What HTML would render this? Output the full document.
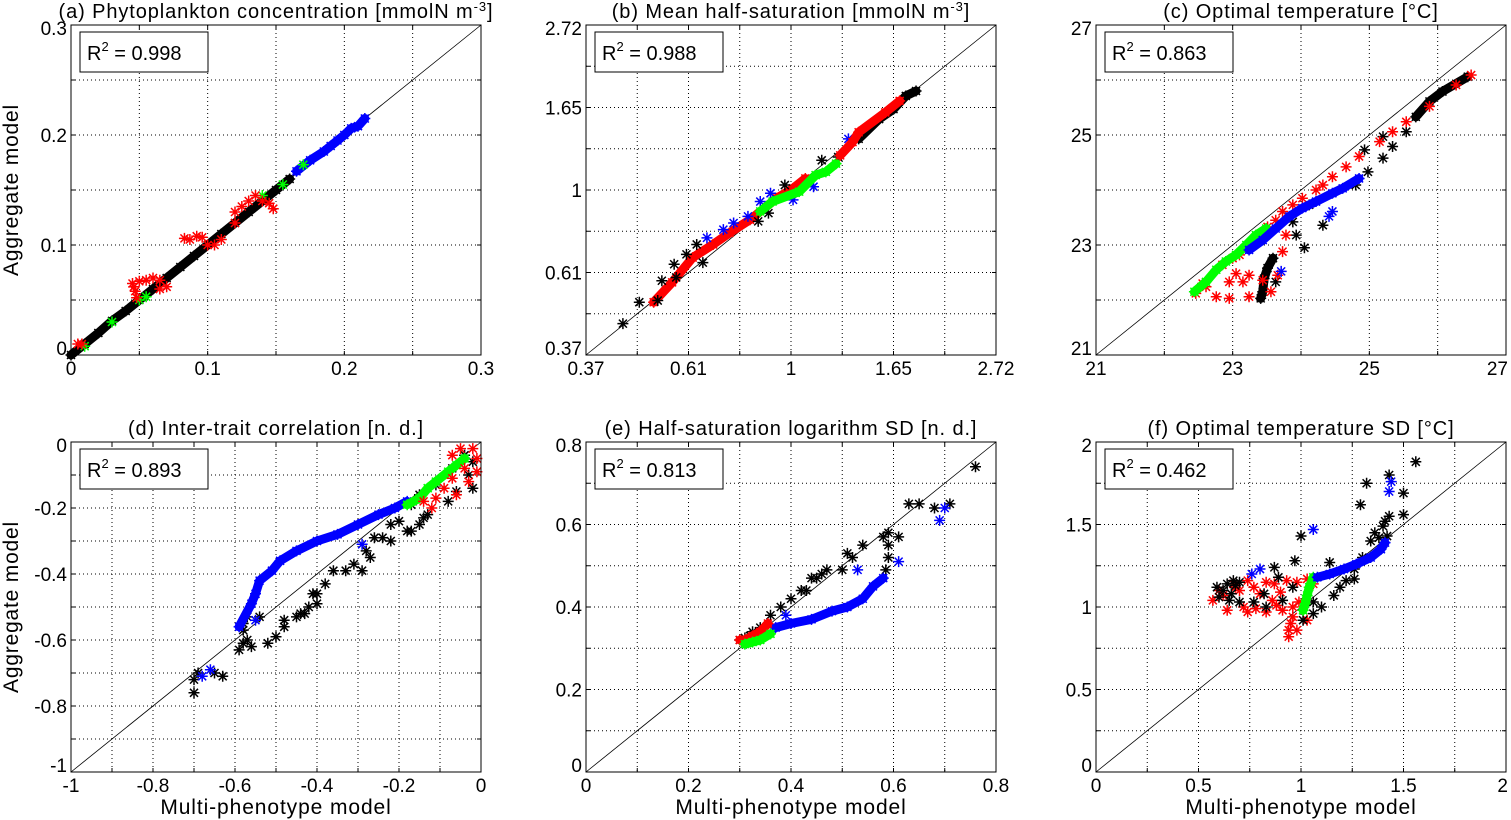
<!DOCTYPE html>
<html><head><meta charset="utf-8">
<style>
html,body{margin:0;padding:0;background:#fff;}
svg{display:block;font-family:"Liberation Sans",sans-serif;}
</style></head>
<body>
<svg id="fig" width="1511" height="820" viewBox="0 0 1511 820"></svg>
<script>
// ---------- DATA ----------
// Panel a: phytoplankton concentration
const aBlackBand=[[0,0],[0.01,0.01],[0.02,0.02],[0.03,0.031],[0.04,0.04],[0.05,0.05],[0.06,0.06],[0.07,0.07],[0.08,0.08],[0.09,0.09],[0.1,0.1],[0.11,0.11],[0.12,0.12],[0.13,0.13],[0.14,0.14],[0.15,0.15],[0.16,0.16]];
const aBlueBand=[[0.165,0.167],[0.175,0.177],[0.185,0.185],[0.19,0.19],[0.195,0.195],[0.2,0.2],[0.205,0.206],[0.21,0.208],[0.215,0.215]];
const aGreen=[[0.01,0.008],[0.03,0.03],[0.05,0.05],[0.055,0.053],[0.14,0.145],[0.155,0.155],[0.17,0.173]];
const aRed=[[0.005,0.01],[0.008,0.01],[0.045,0.065],[0.05,0.067],[0.055,0.068],[0.06,0.07],[0.065,0.068],[0.047,0.058],[0.048,0.052],[0.046,0.062],[0.083,0.106],[0.087,0.105],[0.092,0.108],[0.096,0.107],[0.1,0.1],[0.12,0.13],[0.125,0.135],[0.135,0.145],[0.14,0.14],[0.145,0.138],[0.065,0.06],[0.07,0.062],[0.105,0.1],[0.11,0.105],[0.13,0.14],[0.148,0.133],[0.12,0.12]];
// Panel b: ln of half-saturation (axis is log)
const bBlack=[[-0.82,-0.81],[-0.74,-0.68],[-0.63,-0.55],[-0.57,-0.45],[-0.51,-0.39],[-0.46,-0.33],[-0.65,-0.67],[-0.56,-0.53],[-0.43,-0.44],[-0.16,-0.19],[-0.11,-0.14],[-0.03,0.03],[0.15,0.18],[0.23,0.20]];
const bBlackBand=[[0.33,0.31],[0.43,0.43],[0.50,0.49],[0.56,0.57],[0.61,0.60]];
const bBlue=[[-0.41,-0.29],[-0.33,-0.24],[-0.28,-0.20],[-0.21,-0.16],[-0.15,-0.07],[-0.10,-0.02],[0.01,-0.06],[0.11,0.02],[0.28,0.31]];
const bRedBand=[[-0.67,-0.68],[-0.58,-0.56],[-0.48,-0.41],[-0.38,-0.33],[-0.30,-0.26],[-0.20,-0.18],[-0.07,-0.05],[0.01,0.01],[0.07,0.07]];
const bRedBand2=[[0.24,0.21],[0.30,0.29],[0.33,0.35],[0.46,0.47],[0.53,0.54]];
const bGreenBand=[[-0.15,-0.13],[-0.09,-0.07],[0.04,-0.01],[0.12,0.09],[0.17,0.11],[0.22,0.16]];
// Panel c: optimal temperature
const cBlackBand=[[26.44,26.06],[26.07,25.79],[25.88,25.61],[25.68,25.33]];
const cBlack=[[25.54,25.06],[25.34,24.79],[25.20,24.58],[24.98,24.33],[24.80,24.09],[25.2,24.97],[24.93,24.73],[23.93,23.18],[23.88,23.42],[24.05,22.95],[24.32,23.36],[24.12,23.73],[23.63,22.33]];
const cBlackCluster=[[23.41,22.03],[23.44,22.15],[23.46,22.39],[23.51,22.58],[23.59,22.76]];
const cRed=[[26.49,26.09],[26.27,25.91],[25.88,25.52],[25.54,25.24],[25.34,25.06],[25.15,24.88],[24.85,24.61],[24.66,24.42],[24.46,24.24],[24.32,24.09],[24.22,24.0],[24.02,23.85],[23.88,23.73],[23.73,23.61],[23.63,23.45],[23.51,23.33],[23.10,22.82],[23.0,22.76],[22.85,22.64],[22.46,22.12],[22.61,22.24],[22.76,22.06],[22.95,22.03],[23.24,22.06],[23.05,22.48],[23.24,22.45],[23.44,22.36],[22.95,22.33],[23.15,22.33],[23.78,23.18],[23.73,22.88],[23.66,22.45],[23.56,22.15],[22.56,22.3]];
const cBlueBand=[[23.24,22.91],[23.44,23.09],[23.63,23.30],[23.83,23.52],[24.02,23.67],[24.22,23.79],[24.46,23.94],[24.61,24.03],[24.85,24.21]];
const cBlue=[[24.41,23.52],[24.46,23.61],[23.71,22.52]];
const cGreenBand=[[22.44,22.15],[22.61,22.33],[22.76,22.55],[22.90,22.70],[23.05,22.82],[23.20,23.0],[23.34,23.18],[23.49,23.30]];
// Panel d: inter-trait correlation
const dBlueBand=[[-0.59,-0.56],[-0.56,-0.49],[-0.55,-0.46],[-0.54,-0.42],[-0.51,-0.39],[-0.49,-0.36],[-0.45,-0.33],[-0.40,-0.30],[-0.35,-0.28],[-0.30,-0.25],[-0.25,-0.22],[-0.21,-0.20],[-0.18,-0.18]];
const dBlue=[[-0.66,-0.69],[-0.68,-0.71],[-0.55,-0.54],[-0.29,-0.31]];
const dBlack=[[-0.70,-0.76],[-0.70,-0.72],[-0.69,-0.70],[-0.65,-0.70],[-0.63,-0.71],[-0.57,-0.53],[-0.58,-0.57],[-0.58,-0.61],[-0.59,-0.63],[-0.56,-0.62],[-0.54,-0.53],[-0.52,-0.61],[-0.50,-0.59],[-0.48,-0.56],[-0.48,-0.54],[-0.45,-0.53],[-0.43,-0.52],[-0.41,-0.46],[-0.40,-0.49],[-0.40,-0.46],[-0.38,-0.43],[-0.36,-0.39],[-0.33,-0.39],[-0.31,-0.37],[-0.29,-0.39],[-0.28,-0.33],[-0.27,-0.35],[-0.26,-0.29],[-0.24,-0.29],[-0.22,-0.30],[-0.22,-0.25],[-0.20,-0.24],[-0.18,-0.27],[-0.17,-0.27],[-0.15,-0.25],[-0.14,-0.23],[-0.13,-0.22],[-0.15,-0.16],[-0.11,-0.13],[-0.08,-0.18],[-0.07,-0.08],[-0.04,-0.04],[-0.03,-0.10],[-0.02,-0.14],[-0.06,-0.15],[-0.02,-0.06],[-0.17,-0.19],[-0.58,-0.55],[-0.57,-0.60],[-0.44,-0.52],[-0.42,-0.50]];
const dGreenBand=[[-0.18,-0.19],[-0.15,-0.17],[-0.13,-0.14],[-0.11,-0.12],[-0.08,-0.09],[-0.06,-0.07],[-0.04,-0.05]];
const dRed=[[-0.07,-0.04],[-0.05,-0.02],[-0.02,-0.02],[-0.01,-0.05],[-0.04,-0.08],[-0.07,-0.11],[-0.09,-0.14],[-0.11,-0.17],[-0.12,-0.20],[-0.03,-0.12],[-0.06,-0.16],[-0.01,-0.09],[-0.14,-0.18]];
// Panel e: half-saturation logarithm SD
const eBlack=[[0.30,0.32],[0.32,0.33],[0.34,0.35],[0.36,0.38],[0.38,0.40],[0.40,0.42],[0.42,0.44],[0.43,0.44],[0.44,0.47],[0.46,0.48],[0.47,0.49],[0.50,0.49],[0.51,0.53],[0.52,0.52],[0.54,0.55],[0.58,0.57],[0.59,0.58],[0.61,0.57],[0.59,0.55],[0.59,0.52],[0.585,0.49],[0.63,0.65],[0.65,0.65],[0.68,0.64],[0.71,0.65],[0.76,0.74],[0.325,0.34],[0.45,0.47],[0.31,0.325]];
const eBlueBand=[[0.37,0.35],[0.40,0.36],[0.44,0.37],[0.48,0.39],[0.51,0.40],[0.54,0.42],[0.56,0.45],[0.58,0.47]];
const eBlue=[[0.53,0.49],[0.61,0.51],[0.69,0.61],[0.70,0.64],[0.39,0.38]];
const eRedBand=[[0.30,0.32],[0.31,0.32],[0.325,0.33],[0.34,0.34],[0.355,0.36]];
const eGreenBand=[[0.31,0.31],[0.325,0.315],[0.34,0.32],[0.36,0.335]];
// Panel f: optimal temperature SD
const fBlack=[[1.56,1.88],[1.43,1.80],[1.32,1.75],[1.50,1.69],[1.29,1.62],[1.50,1.56],[1.00,1.43],[0.97,1.28],[0.87,1.24],[0.89,1.18],[1.14,1.27],[1.43,1.55],[1.40,1.49],[1.38,1.42],[1.34,1.40],[1.42,1.43],[1.30,1.30],[1.26,1.23],[1.26,1.17],[1.22,1.16],[1.19,1.12],[1.16,1.07],[1.10,1.00],[1.06,0.96],[1.06,1.03],[1.01,0.92],[0.64,1.14],[0.67,1.16],[0.70,1.15],[0.59,1.12],[0.60,1.06],[0.65,1.04],[0.70,1.03],[0.77,1.03],[0.82,1.08],[0.83,1.00],[0.91,1.04],[0.96,1.12],[0.62,1.10],[0.66,1.08],[0.68,1.13],[1.36,1.45],[1.41,1.52]];
const fBlueBand=[[1.08,1.18],[1.14,1.20],[1.21,1.23],[1.27,1.26],[1.34,1.30],[1.39,1.35],[1.41,1.39]];
const fBlue=[[0.76,1.20],[0.80,1.23],[1.06,1.47],[1.43,1.70],[1.44,1.76]];
const fRed=[[0.57,1.04],[0.60,1.10],[0.67,1.14],[0.74,1.16],[0.83,1.15],[0.93,1.16],[1.03,1.17],[1.06,1.14],[0.64,0.98],[0.74,0.97],[0.83,0.97],[0.91,0.98],[0.99,1.03],[0.70,1.10],[0.80,1.08],[0.90,1.09],[0.96,1.00],[0.95,0.90],[0.94,0.82],[0.98,0.86],[1.03,0.92],[0.77,1.12],[0.86,1.04],[0.62,1.07],[0.68,1.12],[0.87,1.14],[0.98,1.15],[0.72,1.00],[0.88,1.01],[0.78,0.99],[0.96,0.94],[0.94,0.86]];
const fGreenBand=[[1.06,1.18],[1.04,1.12],[1.03,1.07],[1.02,1.02],[1.01,0.98]];

// Tick labels
const aTicks=["0","0.1","0.2","0.3"];
const bTicks=["0.37","0.61","1","1.65","2.72"];
const cTicks=["21","23","25","27"];
const dTicks=["-1","-0.8","-0.6","-0.4","-0.2","0"];
const eTicks=["0","0.2","0.4","0.6","0.8"];
const fTicks=["0","0.5","1","1.5","2"];
const r2Values=["0.998","0.988","0.863","0.893","0.813","0.462"];

// ---------- DRAWING ----------
const NS="http://www.w3.org/2000/svg";
const svg=document.getElementById('fig');
function mk(tag,attrs,parent){const e=document.createElementNS(NS,tag);for(const k in attrs)e.setAttribute(k,attrs[k]);(parent||svg).appendChild(e);return e;}
const COL={k:"#000",b:"#0000ff",r:"#ff0000",g:"#00ff00"};

const panels=[
 {id:"a",L:71,T:25,min:0,max:0.3,grid:6,labels:aTicks,labelVals:[0,0.1,0.2,0.3],title:"(a) Phytoplankton concentration [mmolN m",sup:"-3",tail:"]",ylab:true,xlab:false,
  series:[["k",aBlackBand,true],["b",aBlueBand,true],["g",aGreen,false],["r",aRed,false]]},
 {id:"b",L:586,T:25,min:-1,max:1,grid:8,labels:bTicks,labelVals:[-1,-0.5,0,0.5,1],title:"(b) Mean half-saturation [mmolN m",sup:"-3",tail:"]",ylab:false,xlab:false,
  series:[["r",bRedBand,true],["k",bBlack,false],["k",bBlackBand,true],["b",bBlue,false],["g",bGreenBand,true],["r",bRedBand2,true]]},
 {id:"c",L:1096,T:25,min:21,max:27,grid:6,labels:cTicks,labelVals:[21,23,25,27],title:"(c) Optimal temperature [°C]",ylab:false,xlab:false,
  series:[["k",cBlackBand,true],["k",cBlack,false],["k",cBlackCluster,true],["r",cRed,false],["g",cGreenBand,true],["b",cBlueBand,true],["b",cBlue,false]]},
 {id:"d",L:71,T:442,min:-1,max:0,grid:10,labels:dTicks,labelVals:[-1,-0.8,-0.6,-0.4,-0.2,0],title:"(d) Inter-trait correlation [n. d.]",ylab:true,xlab:true,
  series:[["k",dBlack,false],["b",dBlueBand,true],["b",dBlue,false],["g",dGreenBand,true],["r",dRed,false]]},
 {id:"e",L:586,T:442,min:0,max:0.8,grid:8,labels:eTicks,labelVals:[0,0.2,0.4,0.6,0.8],title:"(e) Half-saturation logarithm SD [n. d.]",ylab:false,xlab:true,
  series:[["k",eBlack,false],["b",eBlueBand,true],["b",eBlue,false],["r",eRedBand,true],["g",eGreenBand,true]]},
 {id:"f",L:1096,T:442,min:0,max:2,grid:8,labels:fTicks,labelVals:[0,0.5,1,1.5,2],title:"(f) Optimal temperature SD [°C]",ylab:false,xlab:true,
  series:[["r",fRed,false],["k",fBlack,false],["g",fGreenBand,true],["b",fBlueBand,true],["b",fBlue,false]]}
];
const W=410,H=330;

function star(g,x,y,c){
  const s=5.5,d=4;
  const p=mk('path',{d:`M${x-s} ${y}H${x+s}M${x} ${y-s}V${y+s}M${x-d} ${y-d}L${x+d} ${y+d}M${x-d} ${y+d}L${x+d} ${y-d}`,stroke:c,'stroke-width':1.5,fill:'none'},g);
  
  
}

panels.forEach((P,pi)=>{
  const sx=v=>P.L+(v-P.min)/(P.max-P.min)*W;
  const sy=v=>P.T+H-(v-P.min)/(P.max-P.min)*H;
  const g=mk('g',{});
  
  
  mk('rect',{x:P.L,y:P.T,width:W,height:H,fill:'#fff'},g);
  const grid=mk('g',{stroke:'#000','stroke-width':1,'stroke-dasharray':'1,3'},g);
  
  
  for(let i=1;i<P.grid;i++){
    const x=P.L+i*W/P.grid, y=P.T+i*H/P.grid;
    mk('line',{x1:x,y1:P.T,x2:x,y2:P.T+H},grid);
    mk('line',{x1:P.L,y1:y,x2:P.L+W,y2:y},grid);
  }
  const tk=mk('g',{stroke:'#000','stroke-width':1},g);
  
  
  for(let i=1;i<P.grid;i++){
    const x=P.L+i*W/P.grid, y=P.T+i*H/P.grid;
    mk('line',{x1:x,y1:P.T+H,x2:x,y2:P.T+H-4},tk);
    mk('line',{x1:x,y1:P.T,x2:x,y2:P.T+4},tk);
    mk('line',{x1:P.L,y1:y,x2:P.L+4,y2:y},tk);
    mk('line',{x1:P.L+W,y1:y,x2:P.L+W-4,y2:y},tk);
  }
  const dl=mk('line',{x1:P.L,y1:P.T+H,x2:P.L+W,y2:P.T,stroke:'#000','stroke-width':0.8},g);
  
  
  const sg=mk('g',{},g);
  
  
  P.series.forEach(([c,pts,band])=>{
    if(band&&pts.length>1){
      const pl=mk('polyline',{points:pts.map(p=>sx(p[0])+','+sy(p[1])).join(' '),stroke:COL[c],'stroke-width':9,fill:'none','stroke-linejoin':'round','stroke-linecap':'round'},sg);
      
      
    }
    pts.forEach(p=>star(sg,sx(p[0]),sy(p[1]),COL[c]));
  });
  const fr=mk('rect',{x:P.L,y:P.T,width:W,height:H,fill:'none',stroke:'#000','stroke-width':1},g);
  
  
  P.labels.forEach((lab,i)=>{
    const v=P.labelVals[i];
    const last=i===P.labels.length-1;
    const edge=last&&pi%3===2;
    const tx=mk('text',{x:edge?1508:sx(v),y:P.T+H+20,'font-size':19,'text-anchor':edge?'end':'middle',fill:'#000'},g);
    tx.textContent=lab;
    
    
    let yy=sy(v)+7; if(i===0) yy-=7; if(last) yy+=3;
    const ty=mk('text',{x:P.L-4,y:yy,'font-size':19,'text-anchor':'end',fill:'#000'},g);
    ty.textContent=lab;
    
    
  });
  const t=mk('text',{x:P.L+W/2,y:P.T-7,'font-size':20,'letter-spacing':'0.9','text-anchor':'middle',fill:'#000'},g);
  
  
  t.appendChild(document.createTextNode(P.title));
  if(P.sup){const s=mk('tspan',{dy:-7,'font-size':13},t);s.textContent=P.sup;const r=mk('tspan',{dy:7},t);r.textContent=P.tail;}
  const bx=mk('g',{},g);
  
  
  mk('rect',{x:P.L+9,y:P.T+7,width:128,height:40,fill:'#fff',stroke:'#000','stroke-width':1},bx);
  const rt=mk('text',{x:P.L+16,y:P.T+35,'font-size':20,fill:'#000'},bx);
  rt.appendChild(document.createTextNode('R'));
  const s2=mk('tspan',{dy:-9,'font-size':13},rt);s2.textContent='2';
  const s3=mk('tspan',{dy:9},rt);s3.textContent=' = '+r2Values[pi];
  if(P.ylab){
    const yl=mk('text',{x:0,y:0,'font-size':21,'letter-spacing':'0.8','text-anchor':'middle',fill:'#000',transform:`translate(18,${P.T+H/2}) rotate(-90)`},g);
    yl.textContent='Aggregate model';
    
    
  }
  if(P.xlab){
    const xl=mk('text',{x:P.L+W/2,y:P.T+H+42,'font-size':21,'letter-spacing':'0.9','text-anchor':'middle',fill:'#000'},g);
    xl.textContent='Multi-phenotype model';
    
    
  }
});
</script>
</body></html>
